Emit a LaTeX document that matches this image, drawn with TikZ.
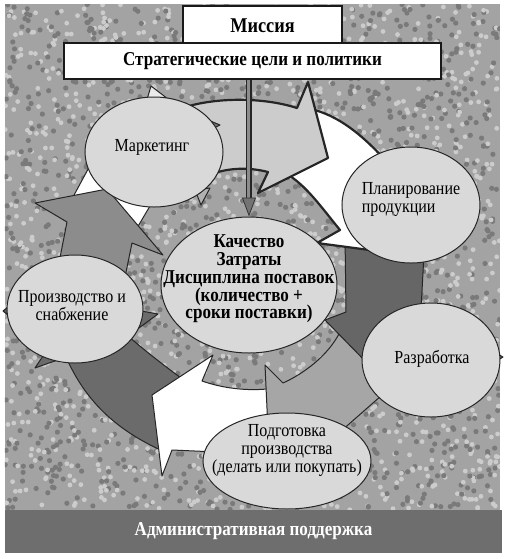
\documentclass[tikz,border=0pt]{standalone}
\usepackage{fontspec}
\setmainfont{Liberation Serif}[FakeStretch=0.87]
\usepackage{tikz}
\usetikzlibrary{positioning}
\usetikzlibrary{arrows.meta}
\usetikzlibrary{shapes.geometric}

\begin{document}
\begin{tikzpicture}[
          x=0.5pt, y=-0.5pt,
          stage/.style={ellipse, draw=black!85, line width=0.5pt, fill=black!15, inner sep=0pt},
          stagetext/.style={font=\fontsize{9.2}{9}\selectfont, align=center, inner sep=0pt},
          coretext/.style={font=\bfseries\fontsize{9.8}{8.9}\selectfont, align=center, inner sep=0pt},
          band/.style={draw=black!85, line width=0.5pt, line join=round},
          topband/.style={draw=black!85, line width=1.1pt, line join=round},
          box/.style={draw=black!90, line width=1pt, fill=white, inner sep=0pt},
          shaft/.style={draw=black!85, line width=0.6pt, double=black!45, double distance=1.5pt}
      ]
        \useasboundingbox (0,0) rectangle (506,559);
        % 背景纹理
        \fill[black!36] (5,4) rectangle (500,510);
        \begin{scope}
          \clip (5,4) rectangle (500,510);
          \pgfmathsetseed{11}
          \foreach \i in {1,...,1700} {
            \fill[black!52] ({5+495*rnd},{4+506*rnd}) circle (2.6);
            \fill[black!20] ({5+495*rnd},{4+506*rnd}) circle (2.4);
          }
        \end{scope}
        \node[fill=black!57, minimum width=248.5pt, minimum height=21.5pt, inner sep=0pt,
              text=white, font=\bfseries\fontsize{9.8}{10}\selectfont] (admin) at (253.5,531.5)
              {Административная поддержка};

        % 环形箭头
        \draw[band, fill=black!58] (165,452) .. controls (115,430) and (85,400) .. (66,357)
              -- (35,368) -- (80,300) -- (158,314) -- (128,336)
              .. controls (150,355) and (170,370) .. (192,386) -- cycle;
        \draw[band, fill=white] (267,389) .. controls (245,391) and (222,388) .. (202,381)
              -- (213,355) -- (152,395) -- (162,476) -- (172,450) -- (240,453)
              -- (275,425) -- (275,392) -- cycle;
        \draw[band, fill=black!35] (265,365) -- (283,383) .. controls (303,374) and (328,356) .. (340,332)
              -- (355,300) -- (405,300) -- (390,388) -- (340,432) -- (268,430) -- cycle;
        \draw[band, fill=black!60] (345,235) -- (425,235) -- (421,310) -- (503,357)
              -- (415,412) -- (325,320) -- (346,312) -- cycle;
        \draw[topband, fill=white] (305,108) .. controls (332,112) and (358,130) .. (385,160)
              -- (402,250) -- (392,253) -- (317,243) -- (340,230)
              .. controls (322,208) and (308,188) .. (290,176) -- (285,130) -- cycle;
        \draw[topband, fill=black!20] (172,112) .. controls (205,97) and (260,96) .. (297,108)
              -- (308,82) -- (328,158) -- (258,193) -- (268,172)
              .. controls (245,166) and (220,168) .. (198,180) -- cycle;
        \draw[band, fill=white] (73,197) -- (93,160) -- (150,182) -- (150,206) -- (137,228) -- (110,212) -- cycle;
        \draw[band, fill=black!45] (58,268) -- (67,222) -- (35,203) -- (107,189)
              -- (163,255) -- (132,243) -- (124,282) -- cycle;
        % 小尖角
        \draw[band, fill=black!8] (151,86) -- (168,99) -- (146,103) -- cycle;
        \draw[band, fill=black!30] (195,190) -- (210,188) -- (201,205) -- cycle;
        \draw[band, fill=black!55] (208,120) -- (220,125) -- (208,131) -- cycle;
        \draw[band, fill=black!65] (14,302) -- (3,311) -- (14,320) -- cycle;

        % 椭圆
        \node[stage, minimum width=69pt, minimum height=55pt] (mkt) at (154,152) {};
        \node[stage, minimum width=69pt, minimum height=58pt] (plan) at (411,205) {};
        \node[stage, minimum width=68pt, minimum height=54pt] (prod) at (75,309) {};
        \node[stage, minimum width=69pt, minimum height=57pt] (dev) at (431,360) {};
        \node[stage, minimum width=84pt, minimum height=48pt] (prep) at (287,461) {};
        \node[stage, minimum width=88pt, minimum height=68pt] (qual) at (249,285) {};
        \node[stagetext] (mkttext) at (152,147) {Маркетинг};
        \node[stagetext, align=left] (plantext) at (411,199) {Планирование\\продукции};
        \node[stagetext] (prodtext) at (72,306) {Производство и\\снабжение};
        \node[stagetext] (devtext) at (432,359) {Разработка};
        \node[stagetext] (preptext) at (287,450) {Подготовка\\производства\\(делать или покупать)};
        \node[coretext] (qualtext) at (249,279)
              {Качество\\Затраты\\Дисциплина поставок\\(количество +\\сроки поставки)};

        % 顶部方框
        \node[box, minimum width=79.5pt, minimum height=19.5pt,
              font=\bfseries\fontsize{10.5}{11}\selectfont] (mission) at (262.5,25.5) {Миссия};
        \node[box, minimum width=188.5pt, minimum height=18pt,
              font=\bfseries\fontsize{9.8}{10}\selectfont] (strat) at (252.5,61)
              {Стратегические цели и политики};
        % 中间的箭头
        \draw[shaft] (qual.north |- strat.south) -- ([yshift=9pt]qual.north);
        \draw[black!80, line width=0.4pt, -{Triangle[length=9.5pt,width=7pt,fill=black!55]}]
              ([yshift=9.5pt]qual.north) -- (qual.north);
      \end{tikzpicture}
\end{document}
